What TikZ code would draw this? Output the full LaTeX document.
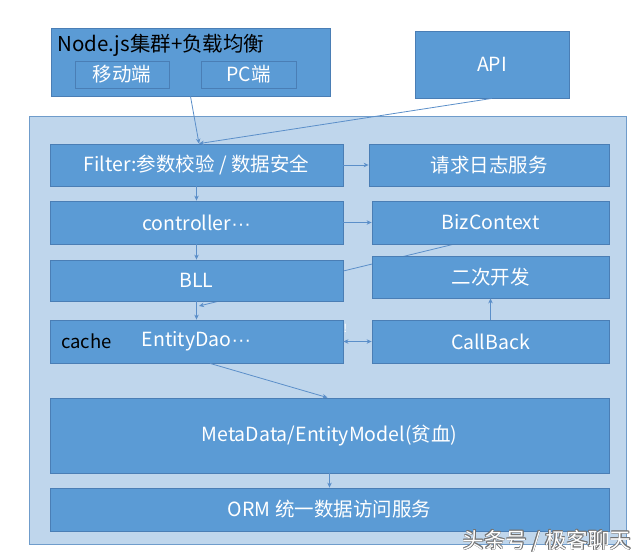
\documentclass[tikz,border=0pt]{standalone}
\usepackage{fontspec}
\setmainfont{Noto Sans CJK SC}
\newfontfamily\dotfont{Liberation Sans}
\usetikzlibrary{arrows.meta}
\definecolor{boxfill}{HTML}{5B9BD5}
\definecolor{boxline}{HTML}{4A7EB5}
\definecolor{outerfill}{HTML}{BFD6EC}
\definecolor{outerline}{HTML}{6F9CCB}
\definecolor{arrowc}{HTML}{5B8FC9}
\pgfdeclarelayer{bottom}
\pgfdeclarelayer{background}
\pgfsetlayers{bottom,background,main}
\tikzset{
  blk/.style={draw=boxline, fill=boxfill, line width=0.8pt, inner sep=0pt,
    text=white, font=\fontsize{19.5}{21}\selectfont, minimum width=#1},
  blk/.default=293pt,
  sub/.style={draw=boxline, fill=boxfill, line width=0.7pt, inner sep=0pt,
    text=white, font=\fontsize{19.5}{21}\selectfont, minimum width=94pt, minimum height=27pt},
  conn/.style={draw=arrowc, line width=0.8pt, -{Stealth[length=5pt,width=4.5pt]}},
  dconn/.style={draw=arrowc, line width=0.8pt, {Stealth[length=5pt,width=4.5pt]}-{Stealth[length=5pt,width=4.5pt]}},
}
\begin{document}
\begin{tikzpicture}[x=1pt,y=-1pt]
\useasboundingbox (0,0) rectangle (640,559);
% outer container
\begin{pgfonlayer}{bottom}
\node[draw=outerline, fill=outerfill, line width=0.8pt, minimum width=597pt, minimum height=428pt, inner sep=0pt] (outer) at (327.5,330) {};
\end{pgfonlayer}
% top boxes
\node[blk=279pt, minimum height=68pt] (nodejs) at (190.5,62) {};
\node[anchor=west, inner sep=0pt, text=black, font=\fontsize{20.5}{22}\selectfont] (title) at (57,45) {Node.js集群+负载均衡};
\node[sub] (mobile) at (122,74.5) {移动端};
\node[sub, minimum width=95pt] (pc) at (248.5,74.5) {PC端};
\node[blk=154pt, minimum height=67pt] (api) at (492,64.5) {API};
% inner boxes
\node[blk, minimum height=42pt] (filter) at (196.5,165) {Filter:参数校验 / 数据安全};
\node[blk=240pt, minimum height=42pt] (log) at (489,165) {请求日志服务};
\node[blk, minimum height=43pt] (ctrl) at (196.5,222.5) {controller{\dotfont ···}};
\node[blk=237pt, minimum height=43pt] (biz) at (490.5,222.5) {BizContext};
\node[blk, minimum height=41pt] (bll) at (196.5,280.5) {BLL};
\node[blk=237pt, minimum height=42pt] (dev) at (490.5,277) {二次开发};
\node[blk, minimum height=43pt] (dao) at (196.5,341.5) {EntityDao{\dotfont ···}};
\node[anchor=west, inner sep=0pt, text=black, font=\fontsize{18.5}{20}\selectfont] (cache) at (61,341.5) {cache};
\node[blk=237pt, minimum height=43pt] (cb) at (490.5,341.5) {CallBack};
\node[blk=559pt, minimum height=75pt] (meta) at (329.5,435.5) {MetaData/EntityModel(贫血)};
\node[blk=559pt, minimum height=43pt] (orm) at (329.5,509.5) {ORM 统一数据访问服务};
\node[inner sep=0pt, text=white, font=\fontsize{11}{12}\selectfont] (mark) at (345.5,328) {!};
% connectors
\coordinate (fin) at ([xshift=2.5pt]filter.north);
\draw[conn] (nodejs.south) -- (fin);
\draw[conn] (api.south) -- (fin);
\draw[conn] (filter.east) -- (log.west);
\draw[conn] (filter.south) -- (ctrl.north);
\draw[conn] (ctrl.east) -- (biz.west);
\draw[conn] (ctrl.south) -- (bll.north);
\coordinate (dtip) at (199,306);
\begin{pgfonlayer}{background}
\draw[conn] ([xshift=-37.5pt]biz.south) -- (dtip);
\end{pgfonlayer}
\draw[conn] (bll.south) -- (dao.north);
\draw[dconn] (dao.east) -- (cb.west);
\draw[conn] (cb.north) -- (dev.south);
\draw[conn] ([xshift=13.5pt]dao.south) -- ([xshift=-2pt]meta.north);
\draw[conn] (meta.south) -- (orm.north);
% watermark
\foreach \dx/\dy [count=\i] in {0.6/0,-0.6/0,0/0.6,0/-0.6,0.45/0.45,-0.45/0.45,0.45/-0.45,-0.45/-0.45}{
  \node[inner sep=0pt, text=black!55, font=\fontsize{21.5}{23}\selectfont] (wm\i) at (547+\dx,541+\dy) {头条号 / 极客聊天};
}
\node[inner sep=0pt, text=white, font=\fontsize{21.5}{23}\selectfont] (wm) at (547,541) {头条号 / 极客聊天};
\end{tikzpicture}
\end{document}
